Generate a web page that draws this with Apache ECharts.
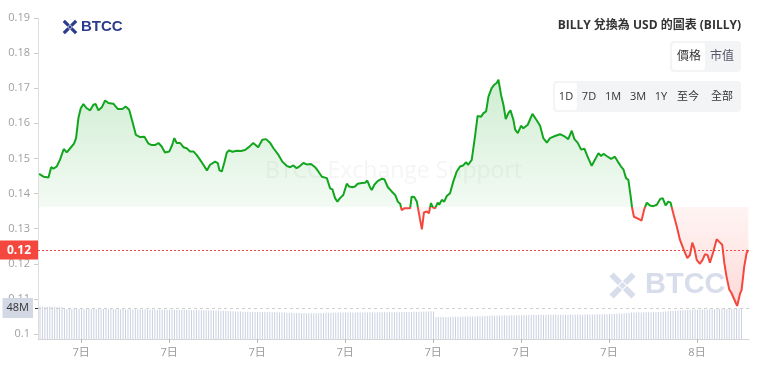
<!DOCTYPE html>
<html><head><meta charset="utf-8">
<script src="https://cdn.jsdelivr.net/npm/echarts@6/dist/echarts.min.js"></script>
<style>html,body{margin:0;padding:0;background:#fff}#c{width:759px;height:370px}</style>
</head><body><div id="c"></div>
<script>
// ---- data (hours since 7日 00:00, price in USD) ----
const hours = [
1.57,1.72,1.89,1.98,2.06,2.17,2.28,2.41,2.51,2.63,
2.76,2.83,2.91,2.99,3.08,3.19,3.31,3.42,3.50,3.59,
3.71,3.82,3.93,4.10,4.25,4.41,4.52,4.64,4.75,4.87,
5.01,5.16,5.30,5.41,5.52,5.64,5.75,5.86,6.01,6.11,
6.18,6.26,6.38,6.49,6.60,6.72,6.83,6.94,7.06,7.17,
7.29,7.40,7.57,7.66,7.72,7.80,7.88,7.97,8.05,8.16,
8.31,8.45,8.59,8.73,8.87,8.93,9.04,9.18,9.31,9.44,
9.56,9.61,9.73,9.86,10.01,10.13,10.24,10.35,10.47,10.58,
10.69,10.84,10.98,11.09,11.21,11.38,11.49,11.57,11.66,11.74,
11.83,11.94,12.06,12.14,12.25,12.34,12.43,12.57,12.68,12.76,
12.85,12.91,13.00,13.12,13.25,13.34,13.46,13.59,13.71,13.80,
13.88,13.93,14.02,14.14,14.22,14.27,14.36,14.45,14.50,14.56,
14.62,14.69,14.79,14.86,14.93,14.99,15.07,15.16,15.21,15.30,
15.38,15.47,15.58,15.69,15.81,15.92,16.03,16.12,16.20,16.32,
16.43,16.52,16.64,16.72,16.81,16.89,17.00,17.09,17.17,17.23,
17.32,17.40,17.48,17.57,17.64,17.74,17.80,17.89,18.00,18.08,
18.23,18.39,18.54,18.65,18.76,18.88,18.99,19.16,19.33,19.50,
19.61,19.73,19.82,19.93,20.05,20.16,20.27,20.41,20.52,20.64,
20.73,20.81,20.92,21.07,21.20,21.30,21.41,21.49,21.58,21.66,
21.74,21.79,21.85,22.02,22.11,22.20,22.29,22.40,22.51,22.63,
22.74,22.83,22.93,23.02,23.10,23.19,23.31,23.42,23.53,23.67,
23.76,23.84,23.91,23.99,24.10,24.19,24.27,24.36,24.44,24.56,
24.67,24.75,24.86,24.93,25.01,25.10,25.18,25.24,25.32,25.37,
25.47,25.52,25.61,25.69,25.75
];
const prices = [
.1456,.1448,.1446,.1475,.1471,.1477,.1496,.1527,.1517,.1529,
.1542,.1558,.1615,.1643,.1655,.1643,.1637,.1653,.1655,.1637,
.1646,.1665,.1658,.1656,.1641,.1641,.1648,.1639,.1605,.1567,
.1561,.1562,.1542,.1538,.1538,.1544,.1534,.1517,.1520,.1539,
.1558,.1544,.1544,.1532,.1529,.1520,.1520,.1510,.1496,.1482,
.1466,.1482,.1491,.1487,.1466,.1463,.1487,.1517,.1523,.1519,
.1522,.1521,.1524,.1533,.1544,.1539,.1532,.1553,.1555,.1545,
.1529,.1525,.1510,.1491,.1479,.1475,.1480,.1472,.1479,.1487,
.1483,.1484,.1475,.1463,.1448,.1444,.1415,.1412,.1387,.1377,
.1387,.1396,.1428,.1420,.1418,.1420,.1428,.1430,.1431,.1437,
.1418,.1410,.1425,.1436,.1442,.1441,.1418,.1406,.1396,.1377,
.1371,.1353,.1358,.1358,.1358,.1391,.1390,.1377,.1353,.1325,
.1298,.1346,.1349,.1344,.1373,.1361,.1358,.1374,.1368,.1382,
.1377,.1393,.1401,.1434,.1463,.1477,.1480,.1489,.1482,.1496,
.1562,.1621,.1619,.1629,.1634,.1676,.1700,.1710,.1715,.1724,
.1681,.1653,.1612,.1629,.1637,.1610,.1582,.1572,.1593,.1586,
.1596,.1627,.1608,.1593,.1558,.1545,.1558,.1564,.1569,.1562,
.1555,.1579,.1555,.1545,.1525,.1528,.1505,.1479,.1496,.1515,
.1507,.1513,.1507,.1499,.1505,.1491,.1477,.1469,.1444,.1439,
.1391,.1358,.1334,.1327,.1323,.1355,.1374,.1366,.1364,.1368,
.1384,.1387,.1366,.1377,.1374,.1344,.1306,.1268,.1244,.1216,
.1225,.1260,.1244,.1211,.1200,.1211,.1227,.1225,.1203,.1235,
.1270,.1263,.1254,.1203,.1162,.1127,.1116,.1116,.1089,.1080,
.1116,.1125,.1192,.1230,.1239
];
const baselinePrice = 0.1362;
// 5-minute volume bars, millions of USD
const volumeStartHour = 1.60;
const volumeStepHours = 5 / 60;
const volumes = [
50.2,50.0,49.8,50.1,50.3,49.9,50.0,49.7,50.1,49.5,
46.8,46.5,46.6,46.4,46.7,46.5,46.3,46.6,46.5,46.4,46.6,46.5,46.3,46.5,46.6,46.4,46.5,46.3,46.4,46.5,
46.2,46.4,46.3,46.1,46.3,46.2,46.0,46.2,46.1,45.9,46.0,45.9,45.8,46.0,45.7,45.8,45.6,45.7,45.5,45.6,
45.4,45.5,45.3,45.4,
45.2,45.3,45.1,45.0,45.2,44.9,45.0,44.8,44.9,44.7,44.8,44.6,44.5,44.6,44.4,44.3,44.4,44.2,44.1,44.0,
43.8,43.6,43.4,43.2,43.0,42.8,42.7,42.5,42.4,42.3,42.2,42.1,
42.0,41.9,42.0,41.8,41.9,41.7,41.8,41.6,41.7,41.5,41.4,41.3,41.2,41.0,40.9,40.8,40.6,40.5,40.3,40.2,40.1,
40.0,39.9,39.8,39.8,39.7,39.8,39.9,40.0,40.2,40.4,40.6,40.7,40.8,40.9,
41.0,41.0,41.1,41.0,41.2,41.1,41.0,41.2,41.1,41.3,41.2,41.1,41.3,41.2,41.4,41.3,41.2,41.4,41.3,41.5,
41.4,41.3,41.5,41.6,41.5,41.7,41.6,41.8,41.7,41.9,42.0,41.9,42.1,42.2,42.1,
42.3,42.4,42.5,42.4,42.6,42.5,
34.2,34.0,33.9,34.1,33.8,34.0,
34.3,34.5,34.4,34.6,34.5,34.7,34.8,34.7,34.9,35.0,34.9,35.1,35.2,35.3,35.5,35.7,
36.0,36.2,36.1,36.4,36.3,36.5,36.6,36.5,36.7,36.6,36.8,36.9,37.0,36.9,37.1,37.2,
37.3,37.2,37.4,37.3,37.5,37.4,37.3,37.5,37.6,37.4,37.5,37.6,37.5,37.7,37.6,37.5,37.7,37.8,37.6,37.7,
37.8,37.9,37.7,37.8,38.0,37.9,38.0,38.1,38.2,38.1,38.3,38.4,38.5,38.6,38.8,39.0,39.2,39.4,39.6,39.8,40.0,
40.6,40.9,41.1,41.2,41.3,41.2,41.4,41.3,41.5,41.4,41.6,41.7,41.8,42.0,42.3,42.6,43.0,43.3,43.6,43.9,
44.2,44.4,44.6,44.8,
45.0,45.2,45.3,45.5,45.4,45.6,45.7,45.6,45.8,45.9,46.0,46.1,46.2,46.3,46.4,46.5,46.6,46.7,46.8,47.0,
47.2,47.5,47.8
];
const volumeMarker = 48;
const volumeMarkerLabel = '48M';
const xTickHours = [3, 6, 9, 12, 15, 18, 21, 24];
const xTickLabels = ['7日', '7日', '7日', '7日', '7日', '7日', '7日', '8日'];
const yMin = 0.10, yMax = 0.19, yStep = 0.01;
const titleText = 'BILLY 兌換為 USD 的圖表 (BILLY)';
const toggle1 = ['價格', '市值'];
const toggle2 = ['1D', '7D', '1M', '3M', '1Y', '至今', '全部'];

// ---- styles ----
const GREEN = '#12a51e', RED = '#f4473d';
const FONT = "'Open Sans','Noto Sans CJK TC',sans-serif";
const XMIN = 1.532, XMAX = 25.773;

const chart = echarts.init(document.getElementById('c'));
const priceData = hours.map((h, i) => [h, prices[i]]);
const volumeData = volumes.map((v, i) => [volumeStartHour + i * volumeStepHours, v]);
const lastPrice = prices[prices.length - 1];

function logoIcon(x, y, s, color, lw) {
  const a = 0.06 * s, b = 0.40 * s, c = 0.60 * s, d = 0.94 * s;
  const ln = (x1, y1, x2, y2) => ({ type: 'line', shape: { x1, y1, x2, y2 }, style: { stroke: color, lineWidth: lw, lineCap: 'butt' } });
  return {
    type: 'group', x, y, children: [
      ln(a, a, b, b), ln(d, a, c, b), ln(a, d, b, c), ln(d, d, c, c),
      { type: 'polygon', shape: { points: [[s / 2, 0.36 * s], [0.64 * s, s / 2], [s / 2, 0.64 * s], [0.36 * s, s / 2]] }, style: { fill: color } }
    ]
  };
}

const graphics = [
  { type: 'text', z: 0, left: 265, top: 160, style: { text: 'BTCC Exchange Support', font: "23px " + FONT, fill: 'rgba(170,170,170,0.12)' } },
  logoIcon(610, 273, 25, 'rgba(190,198,222,0.6)', 6),
  { type: 'text', z: 0, x: 645, y: 285, style: { text: 'BTCC', font: "bold 29px 'Liberation Sans',sans-serif", fill: 'rgba(190,198,222,0.6)', textVerticalAlign: 'middle' } },
  logoIcon(63, 20, 14, '#2c3c8c', 3.2),
  { type: 'text', x: 81, y: 27, style: { text: 'BTCC', font: "bold 15px 'Liberation Sans',sans-serif", fill: '#2c3c8c', textVerticalAlign: 'middle' } },
  { type: 'text', z: 100, x: 741, y: 26, style: { text: titleText, font: "bold 12px " + FONT, fill: '#333', textAlign: 'right', textVerticalAlign: 'middle' } },
  { type: 'rect', z: 100, shape: { x: 670, y: 41, width: 71, height: 31, r: 4 }, style: { fill: '#f3f4f6' } },
  { type: 'rect', z: 101, shape: { x: 672, y: 43, width: 33, height: 27, r: 3 }, style: { fill: '#fff' } },
  { type: 'text', z: 102, x: 689, y: 57, style: { text: toggle1[0], font: "12px " + FONT, fill: '#333', textAlign: 'center', textVerticalAlign: 'middle' } },
  { type: 'text', z: 102, x: 722, y: 57, style: { text: toggle1[1], font: "12px " + FONT, fill: '#556', textAlign: 'center', textVerticalAlign: 'middle' } },
  { type: 'rect', z: 100, shape: { x: 553, y: 81, width: 188, height: 31, r: 4 }, style: { fill: '#f3f4f6' } },
  { type: 'rect', z: 101, shape: { x: 555, y: 83, width: 22, height: 27, r: 3 }, style: { fill: '#fff' } },
].concat(toggle2.map((t, i) => ({
  type: 'text', z: 102, x: [566, 589, 613, 638, 661, 688, 722][i], y: 97,
  style: { text: t, font: "11px " + FONT, fill: '#333', textAlign: 'center', textVerticalAlign: 'middle' }
})));

function makeOption(areaColor) {
  return {
    animation: false,
    textStyle: { fontFamily: FONT },
    grid: [
      { left: 38, right: 10, top: 18, bottom: 36 },
      { left: 38, right: 10, top: 304, bottom: 31 }
    ],
    xAxis: [
      { gridIndex: 0, type: 'value', min: XMIN, max: XMAX, show: false },
      {
        gridIndex: 1, type: 'value', min: XMIN, max: XMAX,
        axisLine: { show: true, lineStyle: { color: '#d6d6d6' } },
        axisTick: { show: true, customValues: xTickHours, length: 4, lineStyle: { color: '#bbb' } },
        axisLabel: { customValues: xTickHours, color: '#999', fontSize: 11, margin: 8,
          formatter: v => xTickLabels[xTickHours.indexOf(Math.round(v))] },
        splitLine: { show: false }
      }
    ],
    yAxis: [
      {
        gridIndex: 0, type: 'value', min: yMin, max: yMax, interval: yStep,
        axisLine: { show: true, lineStyle: { color: '#dedede' } },
        axisTick: { show: true, length: 4, lineStyle: { color: '#ccc' } },
        axisLabel: { color: '#a0a0a0', fontSize: 11, margin: 8, formatter: v => String(+v.toFixed(2)) },
        splitLine: { show: false }
      },
      {
        gridIndex: 1, type: 'value', min: 0, max: 54.2,
        axisLine: { show: true, lineStyle: { color: '#dedede' } },
        axisTick: { show: true, customValues: [volumeMarker], length: 3, lineStyle: { color: '#333' } },
        axisLabel: { show: false },
        splitLine: { show: false }
      }
    ],
    visualMap: {
      show: false, type: 'piecewise', seriesIndex: 0, dimension: 1,
      pieces: [{ gte: 0, lt: baselinePrice, color: RED }, { gte: baselinePrice, lte: 1, color: GREEN }]
    },
    series: [
      {
        type: 'line', xAxisIndex: 0, yAxisIndex: 0, data: priceData, symbol: 'none',
        lineStyle: { width: 2 }, z: 3,
        areaStyle: { origin: baselinePrice, color: areaColor, opacity: 1 },
        markLine: {
          silent: true, symbol: ['none', 'none'], animation: false, precision: 4,
          lineStyle: { color: RED, type: [2, 2], width: 1 },
          label: { position: 'start', distance: 0, formatter: lastPrice.toFixed(2), backgroundColor: RED,
            color: '#fff', fontWeight: 'bold', fontSize: 12, padding: [4, 7, 3, 7], fontFamily: FONT },
          emphasis: { disabled: true },
          data: [{ yAxis: lastPrice }]
        }
      },
      {
        type: 'bar', xAxisIndex: 1, yAxisIndex: 1, data: volumeData, barWidth: 1,
        itemStyle: { color: '#cbd1e0' }, silent: true, z: 2,
        markLine: {
          silent: true, symbol: ['none', 'none'], animation: false, precision: 2,
          lineStyle: { color: '#cfcfcf', type: [3, 3], width: 1 },
          label: { position: 'start', distance: 5, formatter: volumeMarkerLabel, backgroundColor: '#d3d8e5',
            color: '#333', fontSize: 11, padding: [5, 4, 4, 4], fontFamily: FONT },
          emphasis: { disabled: true },
          data: [{ yAxis: volumeMarker }]
        }
      }
    ],
    graphic: graphics
  };
}

chart.setOption(makeOption('rgba(0,0,0,0)'));
const H = 370;
const yTop = chart.convertToPixel({ yAxisIndex: 0 }, Math.max.apply(null, prices));
const yBase = chart.convertToPixel({ yAxisIndex: 0 }, baselinePrice);
const yBot = chart.convertToPixel({ yAxisIndex: 0 }, Math.min.apply(null, prices));
const grad = {
  type: 'linear', x: 0, y: 0, x2: 0, y2: H, global: true,
  colorStops: [
    { offset: 0, color: 'rgba(18,165,30,0.22)' },
    { offset: yTop / H, color: 'rgba(18,165,30,0.20)' },
    { offset: yBase / H - 0.0005, color: 'rgba(18,165,30,0.05)' },
    { offset: yBase / H + 0.0005, color: 'rgba(244,71,61,0.06)' },
    { offset: yBot / H, color: 'rgba(244,71,61,0.20)' },
    { offset: 1, color: 'rgba(244,71,61,0.22)' }
  ]
};
chart.setOption(makeOption(grad));
</script></body></html>
